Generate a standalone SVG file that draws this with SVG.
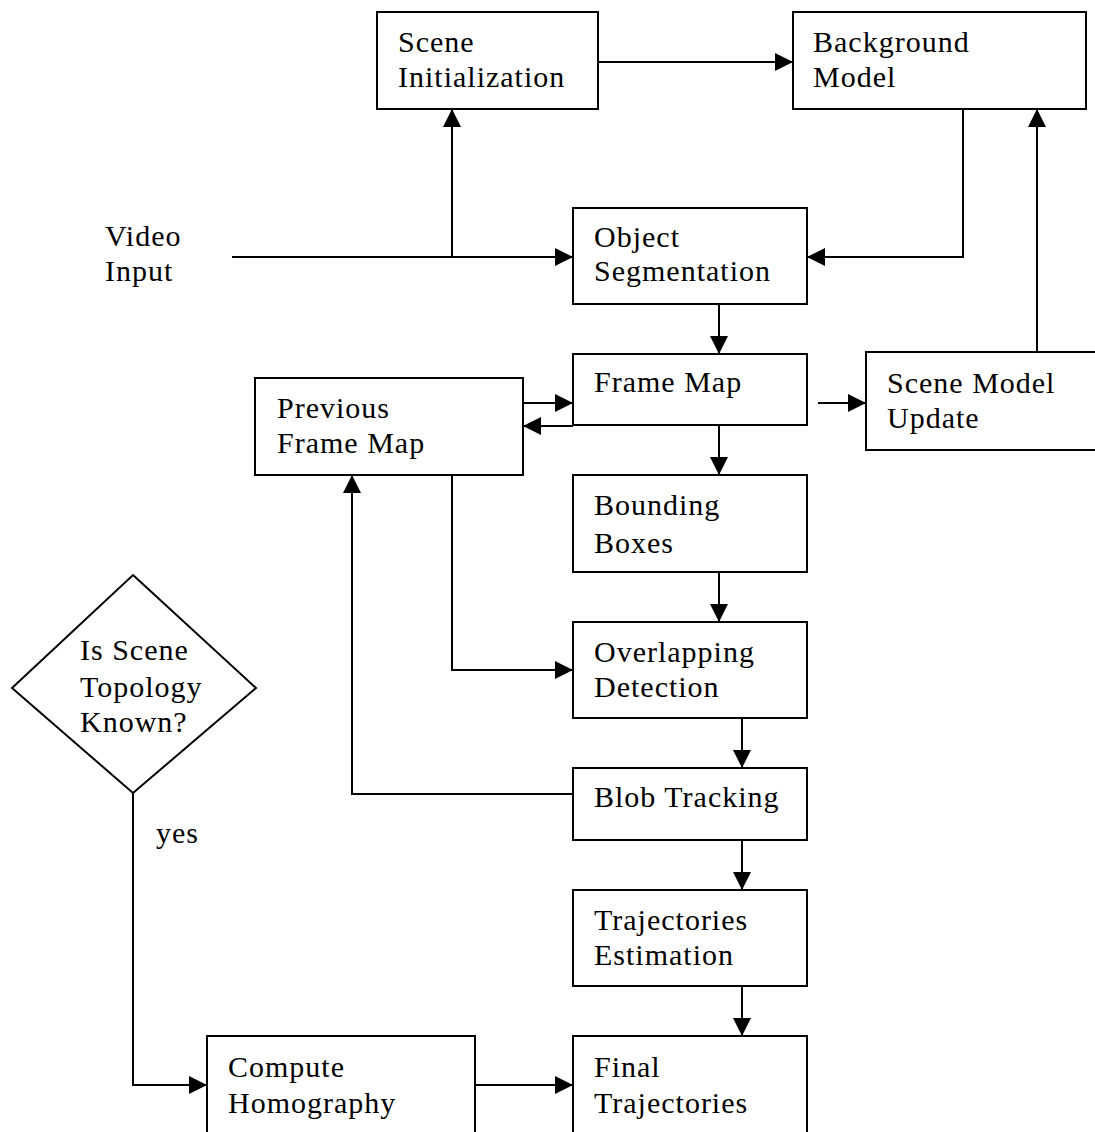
<svg xmlns="http://www.w3.org/2000/svg" width="1095" height="1132" viewBox="0 0 1095 1132">
<style>
.box{fill:#fff;stroke:#000;stroke-width:2}
.t{font-family:"Liberation Serif","Times New Roman",serif;font-size:30px;letter-spacing:1px;fill:#000}
.c{fill:none;stroke:#000;stroke-width:2}
</style>
<defs>
<marker id="ah" markerUnits="userSpaceOnUse" markerWidth="20" markerHeight="20" refX="18" refY="9" orient="auto">
<path d="M0,0 L18,9 L0,18 z" fill="#000"/>
</marker>
</defs>
<rect width="1095" height="1132" fill="#fff"/>
<g id="connectors">
<path class="c" d="M598,62 H793" marker-end="url(#ah)"/>
<path class="c" d="M232,257 H573" marker-end="url(#ah)"/>
<path class="c" d="M452,257 V109" marker-end="url(#ah)"/>
<path class="c" d="M963,109 V257 H807" marker-end="url(#ah)"/>
<path class="c" d="M1037,352 V109" marker-end="url(#ah)"/>
<path class="c" d="M719,304 V354" marker-end="url(#ah)"/>
<path class="c" d="M818,403 H866" marker-end="url(#ah)"/>
<path class="c" d="M523,403 H573" marker-end="url(#ah)"/>
<path class="c" d="M573,426 H523" marker-end="url(#ah)"/>
<path class="c" d="M719,425 V475" marker-end="url(#ah)"/>
<path class="c" d="M719,572 V622" marker-end="url(#ah)"/>
<path class="c" d="M452,475 V670 H573" marker-end="url(#ah)"/>
<path class="c" d="M742,718 V768" marker-end="url(#ah)"/>
<path class="c" d="M573,794 H352 V475" marker-end="url(#ah)"/>
<path class="c" d="M742,840 V890" marker-end="url(#ah)"/>
<path class="c" d="M742,986 V1036" marker-end="url(#ah)"/>
<path class="c" d="M133,793 V1085 H207" marker-end="url(#ah)"/>
<path class="c" d="M475,1085 H573" marker-end="url(#ah)"/>
</g>
<g id="scene-init"><rect class="box" x="377" y="12" width="221" height="97"/><text class="t" x="398" y="52">Scene</text><text class="t" x="398" y="87">Initialization</text></g>
<g id="background-model"><rect class="box" x="793" y="12" width="293" height="97"/><text class="t" x="813" y="52">Background</text><text class="t" x="813" y="87">Model</text></g>
<g id="video-input"><text class="t" x="105" y="246">Video</text><text class="t" x="105" y="281">Input</text></g>
<g id="object-segmentation"><rect class="box" x="573" y="208" width="234" height="96"/><text class="t" x="594" y="247">Object</text><text class="t" x="594" y="281">Segmentation</text></g>
<g id="frame-map"><rect class="box" x="573" y="354" width="234" height="71"/><text class="t" x="594" y="392">Frame Map</text></g>
<g id="scene-model-update"><rect class="box" x="866" y="352" width="232" height="98"/><text class="t" x="887" y="393">Scene Model</text><text class="t" x="887" y="428">Update</text></g>
<g id="previous-frame-map"><rect class="box" x="255" y="378" width="268" height="97"/><text class="t" x="277" y="418">Previous</text><text class="t" x="277" y="453">Frame Map</text></g>
<g id="bounding-boxes"><rect class="box" x="573" y="475" width="234" height="97"/><text class="t" x="594" y="515">Bounding</text><text class="t" x="594" y="553">Boxes</text></g>
<g id="overlapping-detection"><rect class="box" x="573" y="622" width="234" height="96"/><text class="t" x="594" y="662">Overlapping</text><text class="t" x="594" y="697">Detection</text></g>
<g id="blob-tracking"><rect class="box" x="573" y="768" width="234" height="72"/><text class="t" x="594" y="807">Blob Tracking</text></g>
<g id="trajectories-estimation"><rect class="box" x="573" y="890" width="234" height="96"/><text class="t" x="594" y="930">Trajectories</text><text class="t" x="594" y="965">Estimation</text></g>
<g id="final-trajectories"><rect class="box" x="573" y="1036" width="234" height="100"/><text class="t" x="594" y="1077">Final</text><text class="t" x="594" y="1113">Trajectories</text></g>
<g id="compute-homography"><rect class="box" x="207" y="1036" width="268" height="100"/><text class="t" x="228" y="1077">Compute</text><text class="t" x="228" y="1113">Homography</text></g>
<g id="decision"><polygon class="box" points="133,575 256,688 133,793 12,688"/><text class="t" x="80" y="660">Is Scene</text><text class="t" x="80" y="697">Topology</text><text class="t" x="80" y="732">Known?</text></g>
<g id="yes-label"><text class="t" x="156" y="843">yes</text></g>
</svg>
